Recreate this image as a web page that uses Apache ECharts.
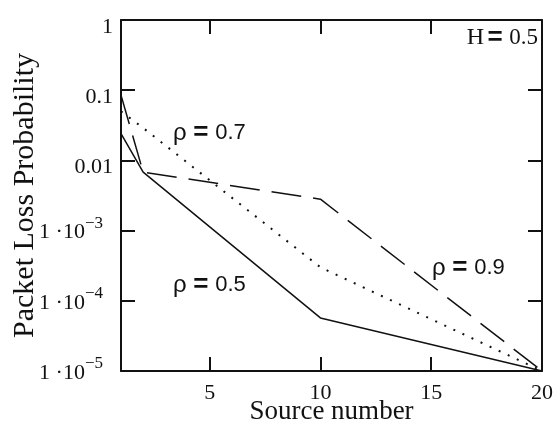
<!DOCTYPE html>
<html>
<head>
<meta charset="utf-8">
<script src="https://cdn.jsdelivr.net/npm/echarts@6/dist/echarts.min.js"></script>
<style>
  html, body { margin: 0; padding: 0; background: #fff; }
  #chart { width: 558px; height: 426px; }
</style>
</head>
<body>
<div id="chart"></div>
<script>
// source numbers where the curves have points
const sources = [1, 2, 10, 20];
// packet loss probability
const rho05 = [0.024, 0.0068, 5.7e-5, 1e-5];
const rho07 = [0.05, 0.029, 3.0e-4, 1e-5];
const rho09 = [0.085, 0.0068, 0.0028, 1e-5];

const xTickValues = [5, 10, 15, 20];
const yTickValues = [1e-5, 1e-4, 1e-3, 0.01, 0.1, 1];
const yTickLabels = ['1 ·10^−5', '1 ·10^−4', '1 ·10^−3', '0.01', '0.1', '1'];

const serif = "'Liberation Serif', 'DejaVu Serif', serif";
const sans = "'Liberation Sans', Arial, sans-serif";
const ink = '#111';

function pairs(ys) {
  return sources.map((x, i) => [x, ys[i]]);
}

function yLabel(v) {
  let i = yTickValues.findIndex(t => Math.abs(Math.log10(t) - Math.log10(v)) < 1e-6);
  if (i < 0) return '';
  let parts = yTickLabels[i].split('^');
  if (parts.length === 1) return '{p|' + parts[0] + '}';
  return '{m|' + parts[0] + '}{s|' + parts[1] + '}';
}

function rhoText(val) {
  return '{r|ρ}  {e|=}  {n|' + val + '}';
}
const rhoRich = {
  r: { fontFamily: sans, fontSize: 24, fill: ink },
  e: { fontFamily: sans, fontSize: 26, fontWeight: 'bold', fill: ink },
  n: { fontFamily: sans, fontSize: 22, fill: ink }
};

let chart = echarts.init(document.getElementById('chart'), null, { renderer: 'canvas' });

let axisLine = { show: true, lineStyle: { color: ink, width: 2 } };

let option = {
  backgroundColor: '#fff',
  animation: false,
  grid: { left: 121, right: 16, top: 20, bottom: 55, containLabel: false, outerBoundsMode: 'none' },
  xAxis: [
    {
      type: 'value',
      min: 1,
      max: 20,
      position: 'bottom',
      name: 'Source number',
      nameLocation: 'middle',
      nameMoveOverlap: false,
      nameGap: 27,
      nameTextStyle: { fontFamily: serif, fontSize: 27, color: ink },
      axisLine: axisLine,
      axisTick: { show: true, inside: true, length: 14, customValues: [5, 10, 15], lineStyle: { color: ink, width: 2 } },
      axisLabel: { customValues: xTickValues, fontFamily: serif, fontSize: 22, color: ink, margin: 11 },
      splitLine: { show: false }
    },
    {
      type: 'value',
      min: 1,
      max: 20,
      position: 'top',
      axisLine: axisLine,
      axisTick: { show: true, inside: true, length: 14, customValues: [5, 10, 15], lineStyle: { color: ink, width: 2 } },
      axisLabel: { show: false },
      splitLine: { show: false }
    }
  ],
  yAxis: [
    {
      type: 'log',
      logBase: 10,
      min: 1e-5,
      max: 1,
      position: 'left',
      name: 'Packet Loss Probability',
      nameLocation: 'middle',
      nameMoveOverlap: false,
      nameGap: 81,
      nameTextStyle: { fontFamily: serif, fontSize: 30, color: ink },
      axisLine: axisLine,
      axisTick: { show: true, inside: true, length: 14, customValues: yTickValues, lineStyle: { color: ink, width: 2 } },
      axisLabel: {
        customValues: yTickValues,
        margin: 8,
        formatter: yLabel,
        rich: {
          p: { fontFamily: serif, fontSize: 22, color: ink, padding: [14, 0, 0, 0] },
          m: { fontFamily: serif, fontSize: 22, color: ink, padding: [4, 0, 0, 0] },
          s: { fontFamily: serif, fontSize: 17, color: ink, padding: [0, 10, 14, 0] }
        }
      },
      splitLine: { show: false }
    },
    {
      type: 'log',
      logBase: 10,
      min: 1e-5,
      max: 1,
      position: 'right',
      axisLine: axisLine,
      axisTick: { show: true, inside: true, length: 14, customValues: yTickValues, lineStyle: { color: ink, width: 2 } },
      axisLabel: { show: false },
      splitLine: { show: false }
    }
  ],
  series: [
    {
      name: 'rho 0.5',
      type: 'line',
      data: pairs(rho05),
      showSymbol: false,
      lineStyle: { color: ink, width: 1.5, type: 'solid' }
    },
    {
      name: 'rho 0.7',
      type: 'line',
      data: pairs(rho07),
      showSymbol: false,
      lineStyle: { color: ink, width: 2, type: [2, 8] }
    },
    {
      name: 'rho 0.9',
      type: 'line',
      data: pairs(rho09),
      showSymbol: false,
      lineStyle: { color: ink, width: 1.5, type: [30, 12], dashOffset: 0 }
    }
  ],
  graphic: [
    {
      type: 'text', right: 20, top: 25,
      style: {
        text: '{h|H} {e|=}  {n|0.5}',
        rich: {
          h: { fontFamily: serif, fontSize: 24, fill: ink },
          e: { fontFamily: sans, fontSize: 26, fontWeight: 'bold', fill: ink },
          n: { fontFamily: serif, fontSize: 23, fill: ink }
        }
      }
    },
    { type: 'text', left: 173, top: 120, style: { text: rhoText('0.7'), rich: rhoRich } },
    { type: 'text', left: 173, top: 272, style: { text: rhoText('0.5'), rich: rhoRich } },
    { type: 'text', left: 432, top: 255, style: { text: rhoText('0.9'), rich: rhoRich } }
  ]
};

chart.setOption(option);
</script>
</body>
</html>
